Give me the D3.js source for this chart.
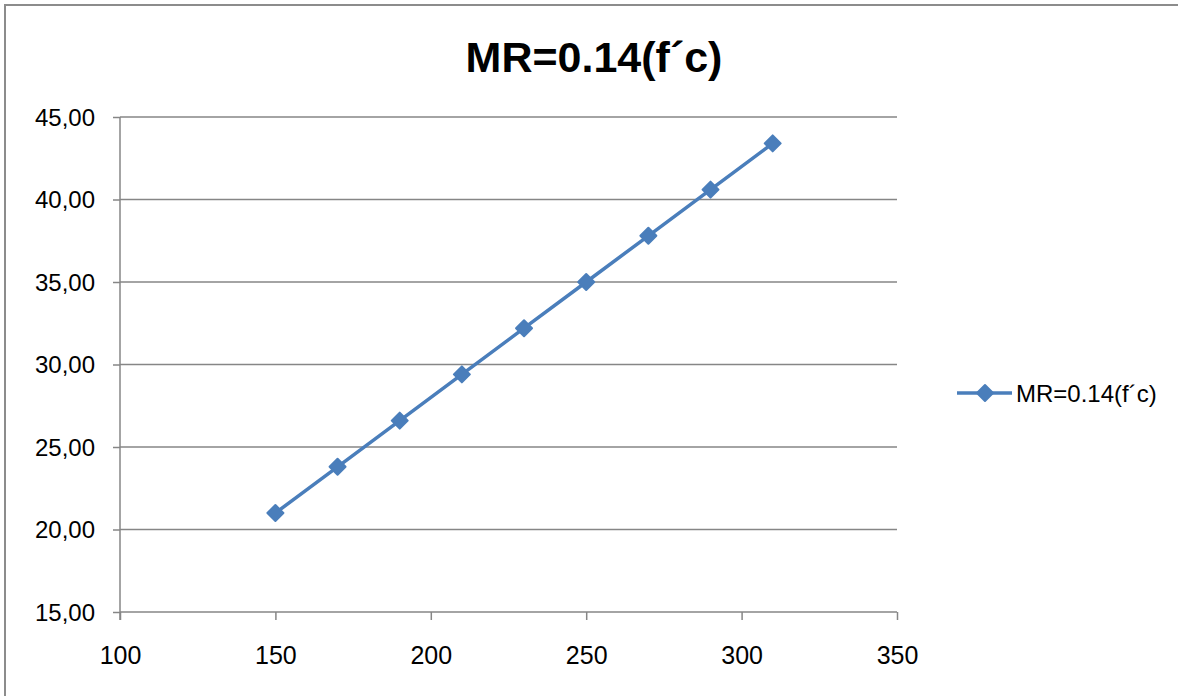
<!DOCTYPE html>
<html>
<head>
<meta charset="utf-8">
<script src="https://cdn.jsdelivr.net/npm/d3@7"></script>
<style>
  html, body { margin: 0; padding: 0; background: #fff; }
  svg { display: block; font-family: "Liberation Sans", Arial, sans-serif; }
</style>
</head>
<body>
<svg id="chart" width="1178" height="696"></svg>
<script>
// ---- data ----
const title = "MR=0.14(f\u00B4c)";
const seriesName = "MR=0.14(f\u00B4c)";
const xValues = [150, 170, 190, 210, 230, 250, 270, 290, 310];
const yValues = [21.0, 23.8, 26.6, 29.4, 32.2, 35.0, 37.8, 40.6, 43.4];
const xTicks = [100, 150, 200, 250, 300, 350];
const yTicks = [15, 20, 25, 30, 35, 40, 45];

const svg = d3.select("#chart");
const W = 1178, H = 696;
const axisColor = "#868686";
const lineColor = "#4A7EBB";

// outer chart border (extends past right/bottom edge)
svg.append("rect")
  .attr("x", 5).attr("y", 5)
  .attr("width", W + 20).attr("height", H + 20)
  .attr("fill", "#fff")
  .attr("stroke", "#8c8c8c").attr("stroke-width", 2);

const plot = { left: 120, right: 897, top: 117, bottom: 612 };

const x = d3.scaleLinear().domain([100, 350]).range([plot.left, plot.right]);
const y = d3.scaleLinear().domain([15, 45]).range([plot.bottom, plot.top]);

// gridlines
svg.append("g").selectAll("line")
  .data(yTicks.filter(d => d !== 15))
  .join("line")
  .attr("x1", plot.left).attr("x2", plot.right)
  .attr("y1", d => y(d)).attr("y2", d => y(d))
  .attr("stroke", axisColor).attr("stroke-width", 1.5);

// y axis
const yAxis = d3.axisLeft(y).tickValues(yTicks).tickSize(7).tickPadding(18)
  .tickFormat(d => d3.format(".2f")(d).replace(".", ","));
const gy = svg.append("g").attr("transform", `translate(${plot.left},0)`).call(yAxis);
gy.select(".domain").attr("stroke", axisColor).attr("stroke-width", 1.5)
  .attr("d", `M0,${plot.top}V${plot.bottom + 8}`);
gy.selectAll(".tick line").attr("stroke", axisColor).attr("stroke-width", 1.5);
gy.selectAll(".tick text").attr("font-size", 24).attr("fill", "#000")
  .attr("font-family", "'Liberation Sans', Arial, sans-serif").attr("dy", "0.34em");

// x axis
const xAxis = d3.axisBottom(x).tickValues(xTicks).tickSize(8).tickPadding(26)
  .tickFormat(d3.format("d"));
const gx = svg.append("g").attr("transform", `translate(0,${plot.bottom})`).call(xAxis);
gx.select(".domain").attr("stroke", axisColor).attr("stroke-width", 1.5)
  .attr("d", `M${plot.left},0H${plot.right}`);
gx.selectAll(".tick line").attr("stroke", axisColor).attr("stroke-width", 1.5);
gx.selectAll(".tick text").attr("font-size", 25).attr("fill", "#000")
  .attr("font-family", "'Liberation Sans', Arial, sans-serif");

// series line
const pts = xValues.map((v, i) => [v, yValues[i]]);
svg.append("path")
  .datum(pts)
  .attr("fill", "none")
  .attr("stroke", lineColor).attr("stroke-width", 3.5)
  .attr("stroke-linejoin", "round")
  .attr("d", d3.line().x(d => x(d[0])).y(d => y(d[1])));

// diamond markers
const diamond = r => `M0,${-r}L${r},0L0,${r}L${-r},0Z`;
svg.append("g").selectAll("path")
  .data(pts)
  .join("path")
  .attr("transform", d => `translate(${x(d[0])},${y(d[1])})`)
  .attr("d", diamond(8))
  .attr("fill", lineColor)
  .attr("stroke", lineColor).attr("stroke-width", 2).attr("stroke-linejoin", "round");

// title
svg.append("text")
  .attr("x", 594).attr("y", 72)
  .attr("text-anchor", "middle")
  .attr("font-size", 43).attr("font-weight", "bold")
  .attr("fill", "#000")
  .text(title);

// legend
const lg = svg.append("g").attr("transform", "translate(957,393)");
lg.append("line").attr("x1", 0).attr("x2", 55).attr("y1", 0).attr("y2", 0)
  .attr("stroke", lineColor).attr("stroke-width", 3.5);
lg.append("path").attr("transform", "translate(28,0)").attr("d", diamond(8))
  .attr("fill", lineColor).attr("stroke", lineColor).attr("stroke-width", 2)
  .attr("stroke-linejoin", "round");
lg.append("text").attr("x", 59).attr("y", 0).attr("dy", "0.36em")
  .attr("font-size", 24).attr("fill", "#000")
  .text(seriesName);
</script>
</body>
</html>
